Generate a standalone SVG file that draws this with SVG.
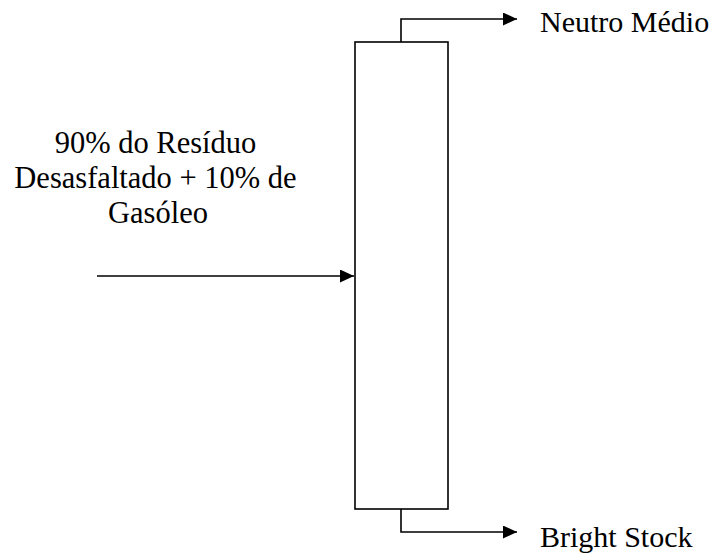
<svg xmlns="http://www.w3.org/2000/svg" width="715" height="553" viewBox="0 0 715 553">
<style>
.ln{fill:none;stroke:#000;stroke-width:1.6}
text{font-family:"Liberation Serif","Times New Roman",serif !important;fill:#000}
</style>
<defs>
<marker id="ah" markerUnits="userSpaceOnUse" markerWidth="15" markerHeight="13" refX="14" refY="6.5" orient="auto">
<path d="M0,0 L14,6.5 L0,13 Z" fill="#000"/>
</marker>
</defs>
<rect width="715" height="553" fill="#fff"/>
<g id="column">
<rect class="ln" x="355" y="42" width="93" height="467"/>
</g>
<g id="feed-label">
<text font-family="Times New Roman" font-size="30.5" text-anchor="middle" x="155.5" y="152.5">90% do Resíduo</text>
<text font-family="Times New Roman" font-size="30.5" text-anchor="middle" x="155.5" y="187.5">Desasfaltado + 10% de</text>
<text font-family="Times New Roman" font-size="30.5" text-anchor="middle" x="158" y="222.5">Gasóleo</text>
</g>
<g id="neutro-medio">
<text font-family="Times New Roman" font-size="30" x="540" y="31.5">Neutro Médio</text>
</g>
<g id="bright-stock">
<text font-family="Times New Roman" font-size="30" x="540" y="547">Bright Stock</text>
</g>
<g id="connectors">
<path class="ln" d="M97,276 H354" marker-end="url(#ah)"/>
<path class="ln" d="M401,42 V19 H517" marker-end="url(#ah)"/>
<path class="ln" d="M401,509 V532 H517" marker-end="url(#ah)"/>
</g>
</svg>
